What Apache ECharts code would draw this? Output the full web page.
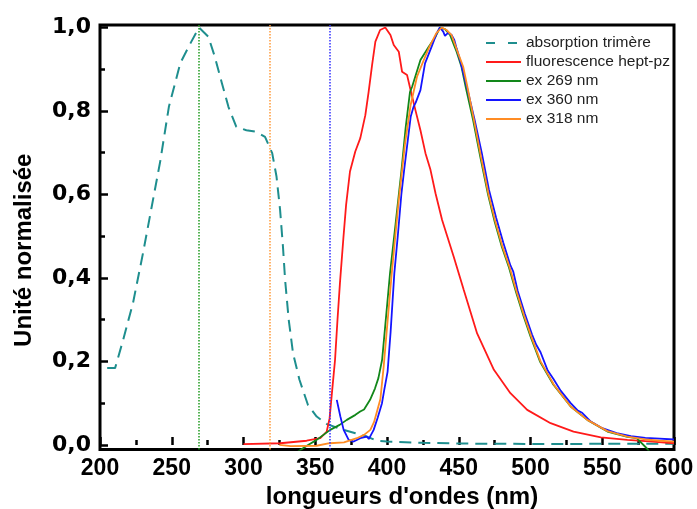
<!DOCTYPE html>
<html>
<head>
<meta charset="utf-8">
<script src="https://cdn.jsdelivr.net/npm/echarts@6/dist/echarts.min.js"></script>
<style>
html,body{margin:0;padding:0;background:#fff;}
#chart{width:697px;height:509px;}
</style>
</head>
<body>
<div id="chart"></div>
<script>
// ---------- data ----------
const seriesNames = ['absorption trimère', 'fluorescence hept-pz', 'ex 269 nm', 'ex 360 nm', 'ex 318 nm'];
const excitation = [269, 360, 318]; // nm, for ex 269 / ex 360 / ex 318

const xTickLabels = [200, 250, 300, 350, 400, 450, 500, 550, 600];
const yTickLabels = [0, 0.2, 0.4, 0.6, 0.8, 1.0];
const yMinorTicks = [0.1, 0.3, 0.5, 0.7, 0.9];

const absX = [205, 210.5, 216, 223, 230, 236, 242, 248, 256, 263, 269, 275.5, 280, 285, 289.5, 295, 302, 309, 315, 320, 323, 325.5, 327.5, 329, 331.5, 334.5, 339, 345, 351, 358, 366, 378, 386, 393, 400, 425, 460, 520, 560, 600];
const absY = [0.184, 0.184, 0.25, 0.34, 0.46, 0.57, 0.68, 0.81, 0.915, 0.962, 1.0, 0.978, 0.93, 0.866, 0.81, 0.762, 0.754, 0.75, 0.738, 0.699, 0.643, 0.563, 0.475, 0.395, 0.3, 0.22, 0.156, 0.095, 0.068, 0.05, 0.04, 0.028, 0.02, 0.01, 0.008, 0.005, 0.003, 0.002, 0.003, 0.003];

const fluoX = [300, 325.6, 344, 353.5, 358, 360, 361.5, 363.8, 365.5, 367.2, 369.6, 371.5, 374.2, 377.9, 381.4, 384.9, 387.2, 389.6, 391.9, 395.2, 398.8, 402.4, 404.7, 408.2, 410.5, 414, 416.3, 419.8, 423.3, 426.8, 430.3, 433.8, 438.4, 446.5, 453.5, 462.8, 474.5, 486, 497.7, 514, 530, 549, 567.5, 585, 600];
const fluoY = [0.002, 0.004, 0.01, 0.016, 0.032, 0.064, 0.12, 0.204, 0.3, 0.387, 0.495, 0.575, 0.655, 0.703, 0.735, 0.79, 0.846, 0.91, 0.966, 0.994, 1.0, 0.982, 0.958, 0.942, 0.894, 0.886, 0.852, 0.802, 0.754, 0.699, 0.659, 0.603, 0.539, 0.451, 0.371, 0.267, 0.18, 0.124, 0.084, 0.052, 0.032, 0.018, 0.012, 0.008, 0.004];

const ex269X = [338, 345, 351, 360.4, 367, 372, 378, 381.3, 384, 388.2, 391.6, 394, 396.6, 402.1, 406, 410, 413, 416, 417.5, 423.3, 429.1, 433.8, 436.9, 440.4, 443.9, 448.5, 451.9, 455, 460, 465, 470.4, 475, 480, 485, 490, 495, 500, 506.6, 516, 528, 539.6, 553.6, 567.5, 574, 581, 586];
const ex269Y = [-0.016, 0.0, 0.012, 0.036, 0.048, 0.06, 0.072, 0.08, 0.085, 0.108, 0.135, 0.16, 0.204, 0.411, 0.53, 0.655, 0.76, 0.845, 0.858, 0.922, 0.954, 0.978, 1.0, 0.996, 0.982, 0.942, 0.906, 0.855, 0.778, 0.69, 0.6, 0.535, 0.475, 0.425, 0.365, 0.31, 0.26, 0.2, 0.144, 0.092, 0.06, 0.032, 0.019, 0.016, -0.008, -0.03];

const ex360X = [365, 367.5, 369.8, 373.3, 376.8, 381.4, 386, 387.3, 390.7, 393.5, 396.5, 398, 400.4, 402.5, 405.1, 407.5, 410, 412, 414.5, 416.5, 418.5, 420, 423.3, 426.5, 431.1, 434.6, 436.9, 439.2, 440.4, 442.7, 445, 446.9, 448.5, 450.9, 455.5, 461, 466, 471, 476, 481, 486, 488, 491, 496, 501, 504, 507, 512, 516, 521, 528, 533, 536, 542, 550, 560, 570, 580, 590, 600];
const ex360Y = [0.108, 0.068, 0.036, 0.012, 0.008, 0.016, 0.02, 0.014, 0.036, 0.065, 0.1, 0.13, 0.175, 0.27, 0.411, 0.5, 0.6, 0.66, 0.73, 0.786, 0.81, 0.82, 0.85, 0.914, 0.954, 0.986, 1.0, 0.99, 0.98, 0.988, 0.982, 0.97, 0.95, 0.922, 0.86, 0.78, 0.7, 0.612, 0.545, 0.485, 0.43, 0.415, 0.37, 0.315, 0.265, 0.24, 0.222, 0.178, 0.158, 0.13, 0.1, 0.082, 0.077, 0.056, 0.04, 0.028, 0.021, 0.017, 0.015, 0.013];

const ex318X = [325, 333, 351, 360, 370, 379, 384, 388.4, 391, 393.4, 395.4, 397.7, 400, 403.3, 408, 412.5, 416.5, 420.9, 425.6, 429.6, 434.3, 438.1, 441.5, 445, 449.6, 453.1, 456, 460.5, 465.5, 470.8, 475.5, 480.5, 485.5, 490.5, 495.5, 500.5, 507, 516.3, 528, 539.6, 553.6, 567.5, 580, 590, 600];
const ex318Y = [0.0, -0.003, -0.002, 0.004, 0.006, 0.016, 0.024, 0.036, 0.055, 0.085, 0.11, 0.188, 0.28, 0.411, 0.58, 0.72, 0.815, 0.882, 0.922, 0.954, 0.986, 1.0, 0.994, 0.982, 0.938, 0.906, 0.858, 0.78, 0.69, 0.6, 0.535, 0.475, 0.425, 0.365, 0.31, 0.26, 0.2, 0.144, 0.092, 0.06, 0.033, 0.02, 0.013, 0.01, 0.008];

// ---------- build ----------
const zip = (xs, ys) => xs.map((x, i) => [x, ys[i]]);
const colors = {
  abs: '#1e8e8e', fluo: '#ff1a1a', g: '#12871a', b: '#1414ff', o: '#ff8c24'
};
const fontMain = '"Liberation Sans", Arial, sans-serif';
const iconSolid = 'path://M0,0H35V2H0Z';
const iconDashed = 'path://M0,0H9V2H0ZM22,0H31V2H22ZM34.9,0H35V0.01H34.9Z';

function vline(x, color) {
  return {
    silent: true, symbol: 'none', animation: false,
    label: { show: false },
    lineStyle: { type: 'dotted', color: color, width: 1.5 },
    data: [{ xAxis: x }]
  };
}

function lineSeries(name, data, color, extra) {
  return Object.assign({
    name: name, type: 'line', data: data, symbol: 'none', smooth: false,
    showSymbol: false, clip: true,
    lineStyle: { color: color, width: 1.8 },
    itemStyle: { color: color },
    emphasis: { disabled: true }
  }, extra || {});
}

const chart = echarts.init(document.getElementById('chart'), null, { renderer: 'canvas' });

const option = {
  animation: false,
  backgroundColor: '#fff',
  grid: {
    left: 100, right: 23, top: 25, bottom: 59.5,
    outerBoundsMode: 'none', containLabel: false,
    show: true, borderColor: '#000', borderWidth: 3, backgroundColor: 'transparent'
  },
  legend: {
    orient: 'vertical', left: 486, top: 35, padding: 0,
    itemWidth: 35, itemHeight: 2, itemGap: 3, symbolKeepAspect: false,
    textStyle: { fontSize: 15.5, fontFamily: fontMain, color: '#222' },
    data: seriesNames.map((n, i) => ({ name: n, icon: i === 0 ? iconDashed : iconSolid }))
  },
  xAxis: {
    type: 'value', min: 200, max: 600, interval: 50,
    name: "longueurs d'ondes (nm)", nameLocation: 'middle', nameGap: 27,
    nameTextStyle: { fontSize: 24, fontWeight: 'bold', fontFamily: fontMain, color: '#000', padding: [0, 0, 0, 30] },
    axisLine: { show: false },
    axisTick: { show: true, inside: true, length: 8, lineStyle: { color: '#000', width: 2.5 } },
    minorTick: { show: true, splitNumber: 2, length: 5, lineStyle: { color: '#000', width: 2.5 } },
    axisLabel: {
      fontSize: 23, fontWeight: 'bold', fontFamily: fontMain, color: '#000', margin: 8,
      customValues: xTickLabels
    },
    splitLine: { show: false }
  },
  yAxis: [{
    type: 'value', min: -0.011, max: 1.006, position: 'left',
    name: 'Unité normalisée', nameLocation: 'middle', nameGap: 64,
    nameTextStyle: { fontSize: 24, fontWeight: 'bold', fontFamily: fontMain, color: '#000', padding: [0, 26, 0, 0] },
    axisLine: { show: false },
    axisTick: { show: true, inside: true, length: 8, lineStyle: { color: '#000', width: 2.5 }, customValues: yTickLabels },
    axisLabel: {
      fontSize: 22, fontWeight: 'bold', fontFamily: '"DejaVu Sans", sans-serif', color: '#000', margin: 9,
      padding: [4, 0, 0, 0],
      customValues: yTickLabels,
      formatter: v => v.toFixed(1).replace('.', ',')
    },
    splitLine: { show: false }
  }, {
    type: 'value', min: -0.011, max: 1.006, position: 'left', offset: 0,
    axisLine: { show: false },
    axisTick: { show: true, inside: true, length: 5, lineStyle: { color: '#000', width: 2.5 }, customValues: yMinorTicks },
    axisLabel: { show: false },
    splitLine: { show: false }
  }],
  series: [
    lineSeries(seriesNames[0], zip(absX, absY), colors.abs, {
      lineStyle: { color: colors.abs, width: 2, type: [12, 7] }
    }),
    lineSeries(seriesNames[1], zip(fluoX, fluoY), colors.fluo),
    lineSeries(seriesNames[2], zip(ex269X, ex269Y), colors.g, { markLine: vline(excitation[0], '#1f9a1f') }),
    lineSeries(seriesNames[3], zip(ex360X, ex360Y), colors.b, { markLine: vline(excitation[1], '#3030ff') }),
    lineSeries(seriesNames[4], zip(ex318X, ex318Y), colors.o, { markLine: vline(excitation[2], '#ff9a3a') })
  ]
};
chart.setOption(option);
</script>
</body>
</html>
